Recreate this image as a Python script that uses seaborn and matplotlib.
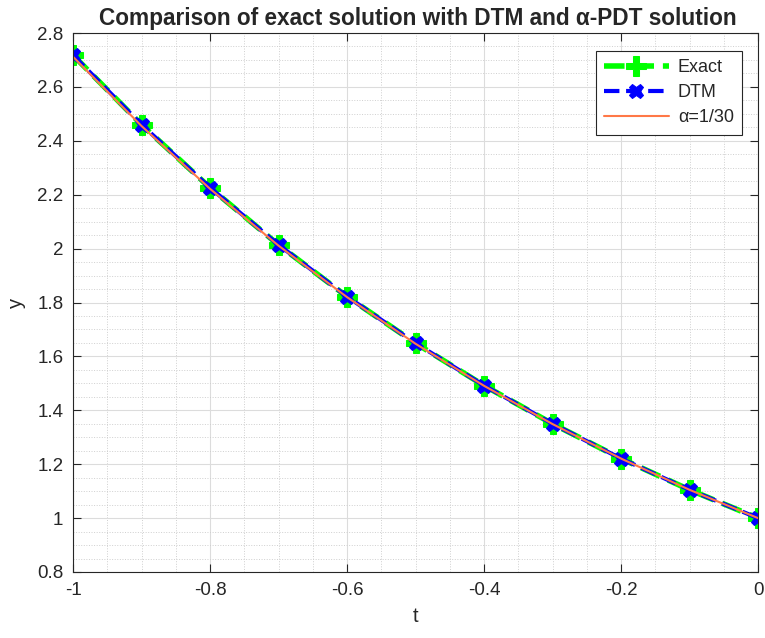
import matplotlib
matplotlib.use("Agg")
import matplotlib.pyplot as plt
import seaborn as sns
import numpy as np
from matplotlib.ticker import MultipleLocator

t = [-1.0, -0.9, -0.8, -0.7, -0.6, -0.5, -0.4, -0.3, -0.2, -0.1, 0.0]
y_exact = [2.718, 2.460, 2.226, 2.014, 1.822, 1.649, 1.492, 1.350, 1.221, 1.105, 1.000]
y_dtm = [2.718, 2.460, 2.226, 2.014, 1.822, 1.649, 1.492, 1.350, 1.221, 1.105, 1.000]
y_alpha = [2.712, 2.455, 2.222, 2.011, 1.820, 1.647, 1.491, 1.349, 1.221, 1.105, 1.000]

sns.set_style("white")
plt.rcParams['font.family'] = ['Liberation Sans', 'DejaVu Sans']

W, H = 765, 638
L, R, T, B = 73, 758, 33, 572
fig = plt.figure(figsize=(W / 100, H / 100), dpi=100)
ax = fig.add_axes([L / W, 1 - B / H, (R - L) / W, (B - T) / H])

sns.lineplot(x=t, y=y_exact, ax=ax, color=(0, 1, 0), linestyle='--', linewidth=4,
             marker='P', markersize=15, markeredgecolor=(0, 1, 0), label='Exact')
sns.lineplot(x=t, y=y_dtm, ax=ax, color=(0, 0, 1), linestyle='--', linewidth=3,
             marker='X', markersize=10.5, markeredgecolor=(0, 0, 1), label='DTM')
sns.lineplot(x=t, y=y_alpha, ax=ax, color=(1.0, 0.47, 0.28), linestyle='-', linewidth=1.5,
             label='α=1/30')

ax.set_xlim(-1, 0)
ax.set_ylim(0.8, 2.8)
ax.xaxis.set_minor_locator(MultipleLocator(0.05))
ax.yaxis.set_minor_locator(MultipleLocator(0.05))
ax.set_xticks([-1, -0.8, -0.6, -0.4, -0.2, 0])
ax.set_xticklabels(['-1', '-0.8', '-0.6', '-0.4', '-0.2', '0'])
ax.set_yticks([0.8, 1, 1.2, 1.4, 1.6, 1.8, 2, 2.2, 2.4, 2.6, 2.8])
ax.set_yticklabels(['0.8', '1', '1.2', '1.4', '1.6', '1.8', '2', '2.2', '2.4', '2.6', '2.8'])

ax.grid(True, which='major', color='#dcdcdc', linewidth=0.8)
ax.grid(True, which='minor', color='#cfcfcf', linewidth=0.7, linestyle=':')
ax.set_axisbelow(True)
ax.tick_params(which='major', direction='in', length=6, width=0.8, colors='#262626',
               labelsize=13.5, top=True, right=True, bottom=True, left=True, pad=7)
ax.tick_params(which='minor', length=0)
for s in ax.spines.values():
    s.set_color('#262626')
    s.set_linewidth(0.8)

ax.set_xlabel('t', fontsize=14.5, color='#262626', labelpad=6)
ax.set_ylabel('y', fontsize=14.5, color='#262626', labelpad=8)
fig.text(418 / W, 1 - 25 / H, 'Comparison of exact solution with DTM and α-PDT solution',
         fontsize=16.3, fontweight='bold', ha='center', va='baseline')

leg = ax.legend(loc='upper right', bbox_to_anchor=((742 - L) / (R - L), 1 - (51 - T) / (B - T)),
                borderaxespad=0, fontsize=13, frameon=True, fancybox=False,
                edgecolor='#262626', framealpha=1,
                handlelength=3.6, handletextpad=0.5, borderpad=0.45, labelspacing=0.45)
leg.get_frame().set_linewidth(0.8)

fig.savefig('out.png', dpi=100)
